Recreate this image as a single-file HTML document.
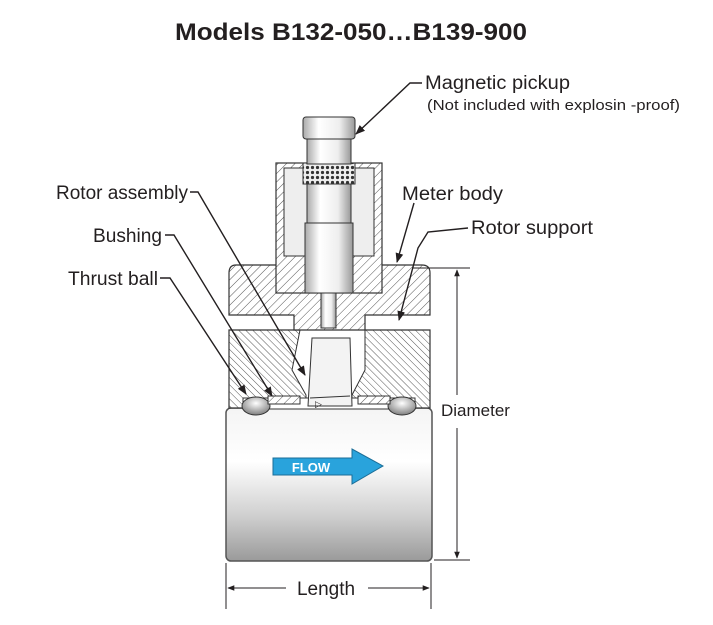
<!DOCTYPE html>
<html><head><meta charset="utf-8"><style>
html,body{margin:0;padding:0;background:#fff;}
svg{display:block;}
text{font-family:"Liberation Sans",sans-serif;fill:#231f20;}
</style></head><body>
<svg width="713" height="625" viewBox="0 0 713 625" xmlns="http://www.w3.org/2000/svg">
<defs>
<pattern id="h" width="6" height="6" patternUnits="userSpaceOnUse" patternTransform="rotate(45)">
<rect width="6" height="6" fill="#fff"/><line x1="0" y1="0" x2="0" y2="6" stroke="#555" stroke-width="1"/></pattern>
<pattern id="h2" width="5" height="5" patternUnits="userSpaceOnUse" patternTransform="rotate(-45)">
<rect width="5" height="5" fill="#fff"/><line x1="0" y1="0" x2="0" y2="5" stroke="#555" stroke-width="1"/></pattern>
<pattern id="knurl" width="5" height="5" patternUnits="userSpaceOnUse">
<rect width="5" height="5" fill="#eee"/><circle cx="2.5" cy="2.5" r="1.6" fill="#333"/></pattern>
<linearGradient id="cyl" x1="0" y1="0" x2="0" y2="1">
<stop offset="0" stop-color="#f4f4f4"/><stop offset="0.35" stop-color="#ffffff"/><stop offset="0.7" stop-color="#d0d0d0"/><stop offset="1" stop-color="#9a9a9a"/></linearGradient>
<linearGradient id="pin" x1="0" y1="0" x2="1" y2="0">
<stop offset="0" stop-color="#aaa"/><stop offset="0.3" stop-color="#fff"/><stop offset="0.7" stop-color="#eee"/><stop offset="1" stop-color="#999"/></linearGradient>
<radialGradient id="ball" cx="0.5" cy="0.35" r="0.6"><stop offset="0" stop-color="#fff"/><stop offset="1" stop-color="#888"/></radialGradient>
<marker id="ar" viewBox="0 0 10 10" refX="9" refY="5" markerWidth="7" markerHeight="7" orient="auto-start-reverse"><path d="M0,1 L10,5 L0,9 z" fill="#231f20"/></marker>
</defs>

<text x="175" y="40" font-size="24" font-weight="bold" textLength="352" lengthAdjust="spacingAndGlyphs">Models B132-050…B139-900</text>

<!-- cylinder -->
<rect x="226" y="408" width="206" height="153" rx="5" fill="url(#cyl)" stroke="#555" stroke-width="1.5"/>
<!-- lower hatched -->
<path d="M229,330 L430,330 L430,408 L229,408 Z" fill="url(#h2)" stroke="#333" stroke-width="1.2"/>
<!-- cavity -->
<path d="M300,330 L365,330 L365,370 L352,395 L352,408 L306,408 L306,395 L292,370 Z" fill="#fff" stroke="#333"/>
<rect x="243" y="398" width="172" height="11" fill="#fff" stroke="#333"/>
<ellipse cx="256" cy="406" rx="14" ry="9" fill="url(#ball)" stroke="#333"/>
<ellipse cx="402" cy="406" rx="14" ry="9" fill="url(#ball)" stroke="#333"/>
<rect x="268" y="396" width="32" height="8" fill="url(#h)" stroke="#333"/>
<rect x="358" y="396" width="32" height="8" fill="url(#h)" stroke="#333"/>
<path d="M312,338 L350,338 L352,406 L308,406 Z" fill="#f3f3f3" stroke="#333"/>
<path d="M310,398 L350,396" stroke="#333"/>
<text x="315" y="407" font-size="9">▷</text>
<!-- upper body -->
<path d="M236,265 L422,265 Q430,265 430,273 L430,315 L365,315 L365,330 L294,330 L294,315 L229,315 L229,273 Q229,265 236,265 Z" fill="url(#h)" stroke="#333" stroke-width="1.2"/>
<!-- housing nut -->
<rect x="276" y="163" width="106" height="130" fill="url(#h)" stroke="#333" stroke-width="1.2"/>
<rect x="284" y="168" width="90" height="88" fill="#eee" stroke="#333"/>
<!-- probe -->
<rect x="321" y="292" width="15" height="36" fill="url(#pin)" stroke="#333"/>
<rect x="305" y="223" width="48" height="70" fill="url(#pin)" stroke="#333"/>
<rect x="307" y="183" width="44" height="40" fill="url(#pin)" stroke="#333"/>
<rect x="303" y="163" width="52" height="21" fill="url(#knurl)" stroke="#333"/>
<rect x="307" y="138" width="44" height="26" fill="url(#pin)" stroke="#333"/>
<rect x="303" y="117" width="52" height="22" rx="3" fill="url(#pin)" stroke="#333"/>

<!-- flow arrow -->
<path d="M273,458 L352,458 L352,449 L383,466 L352,484 L352,475 L273,475 Z" fill="#29a3dc" stroke="#1c6e97" stroke-width="1"/>
<text x="311" y="472" font-size="13" font-weight="bold" text-anchor="middle" style="fill:#fff">FLOW</text>

<!-- dimensions -->
<g stroke="#231f20" stroke-width="1" fill="none">
<line x1="412" y1="268" x2="470" y2="268"/>
<line x1="434" y1="560" x2="470" y2="560"/>
<line x1="457" y1="270" x2="457" y2="395" marker-start="url(#ar)"/>
<line x1="457" y1="428" x2="457" y2="558" marker-end="url(#ar)"/>
<line x1="226" y1="563" x2="226" y2="609"/>
<line x1="431" y1="563" x2="431" y2="609"/>
<line x1="228" y1="588" x2="286" y2="588" marker-start="url(#ar)"/>
<line x1="368" y1="588" x2="429" y2="588" marker-end="url(#ar)"/>
</g>
<text x="441" y="416" font-size="17">Diameter</text>
<text x="326" y="595" font-size="19" text-anchor="middle">Length</text>

<!-- leaders -->
<g stroke="#231f20" stroke-width="1.4" fill="none">
<polyline points="422,83 410,83 356,134" marker-end="url(#ar)"/>
<polyline points="190,192 198,192 305,375" marker-end="url(#ar)"/>
<polyline points="165,235 174,235 272,396" marker-end="url(#ar)"/>
<polyline points="160,278 170,278 246,394" marker-end="url(#ar)"/>
<polyline points="414,203 397,262" marker-end="url(#ar)"/>
<polyline points="468,228 428,232 418,248 399,320" marker-end="url(#ar)"/>
</g>
<text x="425" y="89" font-size="19" textLength="145" lengthAdjust="spacingAndGlyphs">Magnetic pickup</text>
<text x="427" y="110" font-size="15" textLength="253" lengthAdjust="spacingAndGlyphs">(Not included with explosin -proof)</text>
<text x="56" y="199" font-size="19" textLength="132" lengthAdjust="spacingAndGlyphs">Rotor assembly</text>
<text x="93" y="242" font-size="19" textLength="69" lengthAdjust="spacingAndGlyphs">Bushing</text>
<text x="68" y="285" font-size="19" textLength="90" lengthAdjust="spacingAndGlyphs">Thrust ball</text>
<text x="402" y="200" font-size="19" textLength="101" lengthAdjust="spacingAndGlyphs">Meter body</text>
<text x="471" y="234" font-size="19" textLength="122" lengthAdjust="spacingAndGlyphs">Rotor support</text>
</svg>
</body></html>
